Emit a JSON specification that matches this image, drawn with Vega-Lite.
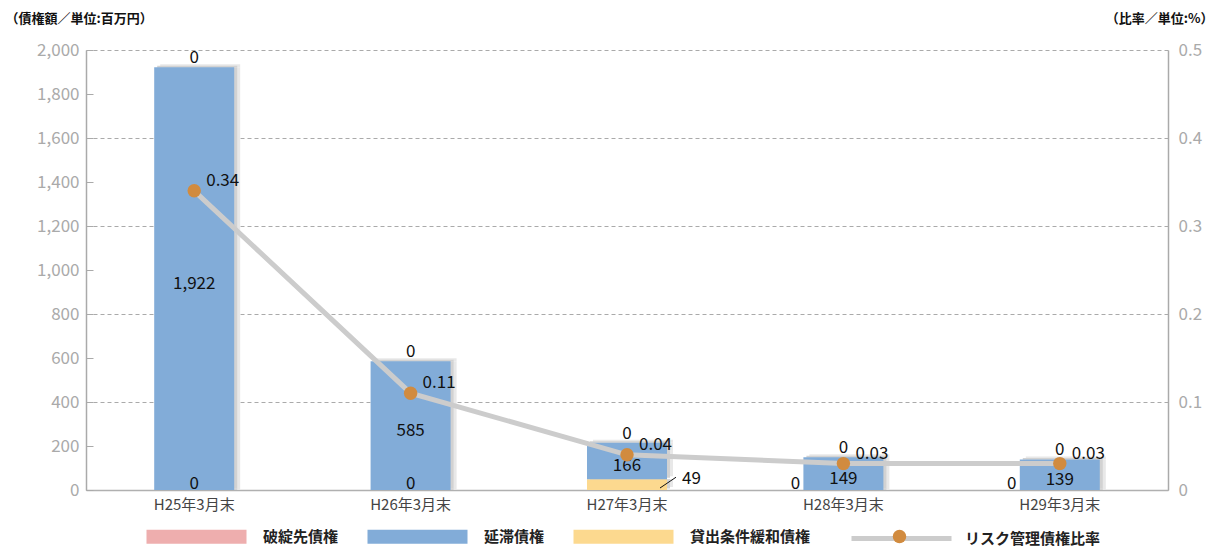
{
  "$schema": "https://vega.github.io/schema/vega-lite/v6.json",
  "width": 1082,
  "height": 440,
  "autosize": {"type": "none"},
  "padding": {"left": 86, "top": 50, "right": 49, "bottom": 56},
  "config": {
    "font": "Noto Sans CJK JP",
    "view": {"stroke": null},
    "axisX": {"title": null, "labelAngle": 0, "labelColor": "#444", "labelFontSize": 15, "ticks": false, "domainColor": "#b0b0b0", "domainWidth": 1.5, "labelPadding": 7, "grid": false},
    "text": {"fontSize": 17, "color": "#111"}
  },
  "data": {
    "values": [
      {"cat": "H25年3月末", "破綻先債権": 0, "延滞債権": 1922, "貸出条件緩和債権": 0, "リスク管理債権比率": 0.34},
      {"cat": "H26年3月末", "破綻先債権": 0, "延滞債権": 585, "貸出条件緩和債権": 0, "リスク管理債権比率": 0.11},
      {"cat": "H27年3月末", "破綻先債権": 0, "延滞債権": 166, "貸出条件緩和債権": 49, "リスク管理債権比率": 0.04},
      {"cat": "H28年3月末", "破綻先債権": 0, "延滞債権": 149, "貸出条件緩和債権": 0, "リスク管理債権比率": 0.03},
      {"cat": "H29年3月末", "破綻先債権": 0, "延滞債権": 139, "貸出条件緩和債権": 0, "リスク管理債権比率": 0.03}
    ]
  },
  "layer": [
    {
      "transform": [
        {"fold": ["貸出条件緩和債権", "延滞債権", "破綻先債権"], "as": ["series", "value"]},
        {"stack": "value", "groupby": ["cat"], "as": ["v0", "v1"]}
      ],
      "encoding": {
        "x": {"field": "cat", "type": "nominal", "sort": null, "scale": {"paddingInner": 0, "paddingOuter": 0}}
      },
      "layer": [
        {
          "mark": {"type": "bar", "size": 80, "color": "#e8e8e8", "xOffset": 6, "yOffset": -3},
          "encoding": {
            "y": {"field": "v0", "type": "quantitative", "scale": {"domain": [0, 2000]},
              "axis": {"title": "（債権額／単位:百万円）", "titleAngle": 0, "titleAlign": "left", "titleBaseline": "middle", "titleX": -81, "titleY": -32, "titleFontSize": 13, "titleFontWeight": "bold", "titleColor": "#111",
                "values": [0, 200, 400, 600, 800, 1000, 1200, 1400, 1600, 1800, 2000], "format": ",.0f", "grid": false,
                "tickSize": -7, "tickColor": "#aaa", "domainColor": "#aaa", "domainWidth": 1.5, "labelColor": "#aaa", "labelFontSize": 17, "labelPadding": 14}},
            "y2": {"field": "v1"}
          }
        },
        {
          "mark": {"type": "bar", "size": 80, "color": "#d2d2d2", "xOffset": 3, "yOffset": -1.5},
          "encoding": {"y": {"field": "v0", "type": "quantitative"}, "y2": {"field": "v1"}}
        },
        {
          "mark": {"type": "bar", "size": 80},
          "encoding": {
            "y": {"field": "v0", "type": "quantitative"},
            "y2": {"field": "v1"},
            "color": {"field": "series", "type": "nominal",
              "scale": {"domain": ["破綻先債権", "延滞債権", "貸出条件緩和債権"], "range": ["#eeaeae", "#82acd8", "#fcd98f"]},
              "legend": {"title": null, "orient": "none", "legendX": 60, "legendY": 479, "direction": "horizontal",
                "symbolType": "M-1,-1L13.286,-1L13.286,1L-1,1Z", "symbolSize": 196, "symbolStrokeWidth": 0, "symbolOpacity": 1,
                "labelOffset": 102, "columnPadding": 28, "labelFontSize": 15, "labelFontWeight": "bold", "labelColor": "#222", "labelLimit": 300}}
          }
        },
        {
          "transform": [
            {"filter": {"field": "series", "equal": "延滞債権"}},
            {"fold": ["v0", "v1"], "as": ["bound", "pos"]}
          ],
          "mark": {"type": "text", "baseline": "middle", "dy": 5},
          "encoding": {
            "y": {"field": "pos", "type": "quantitative", "aggregate": "mean"},
            "text": {"field": "value", "type": "quantitative", "aggregate": "max", "format": ","}
          }
        },
        {
          "transform": [{"filter": {"field": "series", "equal": "破綻先債権"}}],
          "mark": {"type": "text", "baseline": "bottom", "dy": 0},
          "encoding": {"y": {"field": "v1", "type": "quantitative"}, "text": {"field": "value", "type": "quantitative"}}
        },
        {
          "transform": [{"filter": {"and": [{"field": "series", "equal": "貸出条件緩和債権"}, {"field": "cat", "oneOf": ["H25年3月末", "H26年3月末"]}]}}],
          "mark": {"type": "text", "baseline": "alphabetic", "dy": -1},
          "encoding": {"y": {"field": "v0", "type": "quantitative"}, "text": {"field": "value", "type": "quantitative"}}
        },
        {
          "transform": [{"filter": {"and": [{"field": "series", "equal": "貸出条件緩和債権"}, {"field": "cat", "oneOf": ["H28年3月末", "H29年3月末"]}]}}],
          "mark": {"type": "text", "baseline": "alphabetic", "dy": -1, "dx": -48},
          "encoding": {"y": {"field": "v0", "type": "quantitative"}, "text": {"field": "value", "type": "quantitative"}}
        },
        {
          "transform": [{"filter": {"and": [{"field": "series", "equal": "貸出条件緩和債権"}, {"field": "value", "gt": 0}]}}],
          "mark": {"type": "text", "baseline": "middle", "align": "left", "dx": 55},
          "encoding": {"y": {"field": "v1", "type": "quantitative"}, "text": {"field": "value", "type": "quantitative"}}
        },
        {
          "transform": [{"filter": {"and": [{"field": "series", "equal": "貸出条件緩和債権"}, {"field": "value", "gt": 0}]}}],
          "mark": {"type": "rule", "color": "#111", "strokeWidth": 1, "xOffset": 33, "x2Offset": 49, "yOffset": -2, "y2Offset": -2},
          "encoding": {"x": {"field": "cat", "type": "nominal", "bandPosition": 0.5}, "x2": {"field": "cat", "bandPosition": 0.5}, "y": {"field": "v0", "type": "quantitative"}, "y2": {"field": "v1"}}
        }
      ]
    },
    {
      "encoding": {
        "x": {"field": "cat", "type": "nominal", "sort": null},
        "y": {"field": "リスク管理債権比率", "type": "quantitative", "scale": {"domain": [0, 0.5]},
          "axis": {"orient": "right", "title": "（比率／単位:%）", "titleAngle": 0, "titleAlign": "right", "titleBaseline": "middle", "titleX": 45, "titleY": -32, "titleFontSize": 13, "titleFontWeight": "bold", "titleColor": "#111",
            "values": [0, 0.1, 0.2, 0.3, 0.4, 0.5], "format": ".1~f", "grid": true, "gridDash": [4, 3], "gridColor": "#aaa", "ticks": false,
            "domainColor": "#aaa", "domainWidth": 1.5, "labelColor": "#aaa", "labelFontSize": 17, "labelPadding": 10}}
      },
      "layer": [
        {
          "mark": {"type": "line", "strokeWidth": 5},
          "encoding": {
            "stroke": {"datum": "リスク管理債権比率", "scale": {"range": ["#cccccc"]},
              "legend": {"title": null, "orient": "none", "legendX": 763, "legendY": 479, "symbolType": "M-1,0L13.286,0", "symbolSize": 196, "symbolStrokeWidth": 5,
                "labelOffset": 97, "labelFontSize": 15, "labelFontWeight": "bold", "labelColor": "#222", "labelLimit": 300}}
          }
        },
        {
          "mark": {"type": "circle", "size": 180, "opacity": 1},
          "encoding": {
            "fill": {"datum": "●", "scale": {"range": ["#d18b3f"]},
              "legend": {"title": null, "orient": "none", "legendX": 806, "legendY": 479, "symbolType": "circle", "symbolSize": 180, "symbolOpacity": 1, "symbolStrokeWidth": 0,
                "labelOffset": 16, "labelFontSize": 15, "labelFontWeight": "bold", "labelColor": "rgba(0,0,0,0)", "labelLimit": 300}}
          }
        },
        {
          "mark": {"type": "text", "align": "left", "baseline": "middle", "dx": 12, "dy": -10},
          "encoding": {"text": {"field": "リスク管理債権比率", "type": "quantitative", "format": ".2f"}}
        }
      ]
    }
  ],
  "resolve": {"scale": {"y": "independent"}}
}
